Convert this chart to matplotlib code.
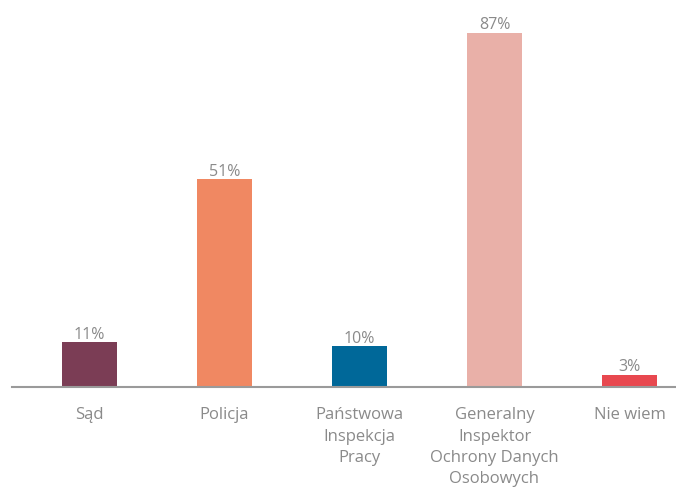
import matplotlib
matplotlib.use("Agg")
from matplotlib import pyplot as plt

categories = ["Sąd", "Policja", "Państwowa\nInspekcja\nPracy",
              "Generalny\nInspektor\nOchrony Danych\nOsobowych", "Nie wiem"]
values = [11, 51, 10, 87, 3]
colors = ["#7b3d55", "#f08862", "#006899", "#e9b0a8", "#e8484f"]

plt.rcParams['font.family'] = ['Open Sans', 'DejaVu Sans']

fig = plt.figure(figsize=(6.76, 4.89), dpi=100)
ax = fig.add_axes([12 / 676, 101 / 489, 1 - 12 / 676, 388 / 489])

x = list(range(len(values)))
bars = ax.bar(x, values, width=55 / 135, color=colors)

for xi, v in zip(x, values):
    ax.annotate(f"{v}%", (xi, v), xytext=(0, 0.5), textcoords="offset points",
                ha="center", va="bottom", fontsize=11.5, color="#8a8a8a")

ax.set_xlim(-77.5 / 135, (676 - 89.5) / 135)
ax.set_ylim(0, 388 / 4.07)

ax.set_xticks(x)
ax.set_xticklabels(categories, fontsize=12, color="#8a8a8a", linespacing=1.43)
ax.tick_params(axis="x", length=0, pad=14)
ax.set_yticks([])

for s in ["top", "right", "left"]:
    ax.spines[s].set_visible(False)
ax.spines["bottom"].set_color("#9a9a9a")
ax.spines["bottom"].set_linewidth(1.5)

fig.savefig("out.png", dpi=100)
